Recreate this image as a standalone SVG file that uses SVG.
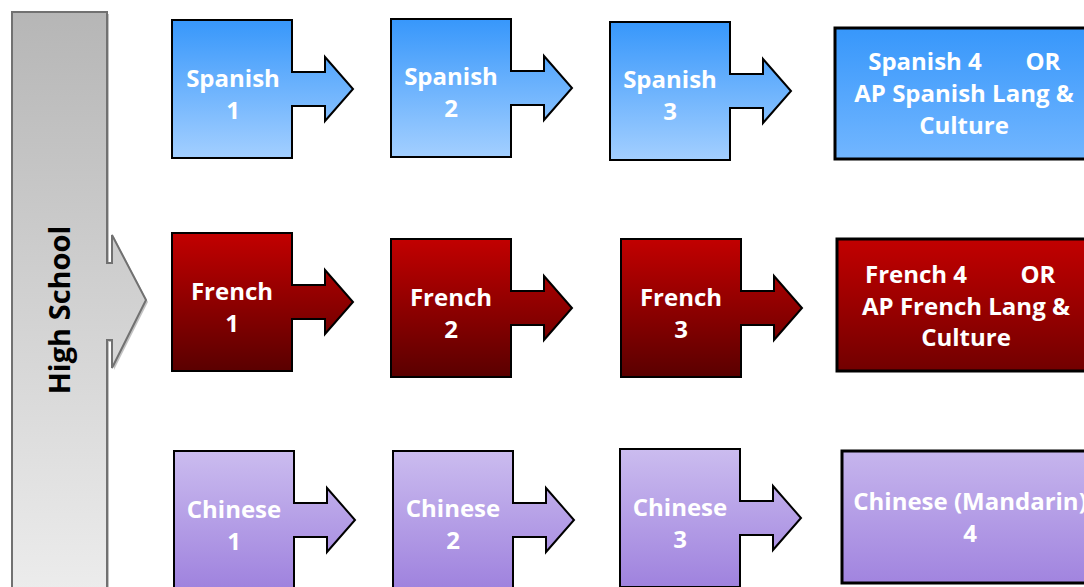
<svg xmlns="http://www.w3.org/2000/svg" width="1084" height="587" viewBox="0 0 1084 587">
<defs>
<linearGradient id="gHS" x1="0" y1="0" x2="0" y2="1"><stop offset="0" stop-color="#b6b6b6"/><stop offset="1" stop-color="#ececec"/></linearGradient>
<linearGradient id="gSp" x1="0" y1="0" x2="0" y2="1"><stop offset="0" stop-color="#3797fb"/><stop offset="1" stop-color="#a3cfff"/></linearGradient>
<linearGradient id="gSp4" x1="0" y1="0" x2="0" y2="1"><stop offset="0" stop-color="#3797fb"/><stop offset="1" stop-color="#72b6ff"/></linearGradient>
<linearGradient id="gFr" x1="0" y1="0" x2="0" y2="1"><stop offset="0" stop-color="#c20000"/><stop offset="1" stop-color="#5a0000"/></linearGradient>
<linearGradient id="gFr4" x1="0" y1="0" x2="0" y2="1"><stop offset="0" stop-color="#c20000"/><stop offset="1" stop-color="#720000"/></linearGradient>
<linearGradient id="gCh" x1="0" y1="0" x2="0" y2="1"><stop offset="0" stop-color="#cbbcef"/><stop offset="1" stop-color="#9f82de"/></linearGradient>
<linearGradient id="gCh4" x1="0" y1="0" x2="0" y2="1"><stop offset="0" stop-color="#c6b5ed"/><stop offset="1" stop-color="#a184df"/></linearGradient>
<path id="arr" d="M0,0 H120 V52 H153 V37 L181,69 L153,101 V86 H120 V138 H0 Z"/>
</defs>
<style>
.sp{fill:url(#gSp);stroke:#000;stroke-width:2;stroke-linejoin:miter}
.fr{fill:url(#gFr);stroke:#000;stroke-width:2}
.ch{fill:url(#gCh);stroke:#000;stroke-width:2}
.box{stroke:#000;stroke-width:3}
.t{font-family:"Open Sans","DejaVu Sans",sans-serif;font-weight:bold;font-size:24px;fill:#fff;text-anchor:middle}
.hs{font-family:"Open Sans","DejaVu Sans",sans-serif;font-weight:bold;font-size:29px;fill:#000;text-anchor:middle}
</style>

<g id="high-school">
<path d="M14,14 H109 V265 H114 V237 L148,302 L114,370 V342 H109 V592 H14 Z" fill="#9a9a9a" opacity="0.6"/>
<path d="M12,12 H107 V263 H112 V235 L146,300 L112,368 V340 H107 V590 H12 Z" fill="url(#gHS)" stroke="#717171" stroke-width="2"/>
<text class="hs" transform="translate(70,310) rotate(-90)">High School</text>
</g>

<g id="connectors"></g>

<g id="spanish-1"><use href="#arr" class="sp" transform="translate(172,20)"/><text class="t" x="233" y="87">Spanish<tspan x="233" dy="32">1</tspan></text></g>
<g id="spanish-2"><use href="#arr" class="sp" transform="translate(391,19)"/><text class="t" x="451" y="85">Spanish<tspan x="451" dy="32">2</tspan></text></g>
<g id="spanish-3"><use href="#arr" class="sp" transform="translate(610,22)"/><text class="t" x="670" y="88">Spanish<tspan x="670" dy="32">3</tspan></text></g>
<g id="spanish-4"><rect class="box" x="835" y="28" width="260" height="131" fill="url(#gSp4)"/>
<text class="t"><tspan x="925" y="70">Spanish 4</tspan><tspan x="1043" y="70">OR</tspan><tspan x="964" y="102">AP Spanish Lang &amp;</tspan><tspan x="964" y="134">Culture</tspan></text></g>

<g id="french-1"><use href="#arr" class="fr" transform="translate(172,233)"/><text class="t" x="232" y="300">French<tspan x="232" dy="32">1</tspan></text></g>
<g id="french-2"><use href="#arr" class="fr" transform="translate(391,239)"/><text class="t" x="451" y="306">French<tspan x="451" dy="32">2</tspan></text></g>
<g id="french-3"><use href="#arr" class="fr" transform="translate(621,239)"/><text class="t" x="681" y="306">French<tspan x="681" dy="32">3</tspan></text></g>
<g id="french-4"><rect class="box" x="837" y="239" width="260" height="132" fill="url(#gFr4)"/>
<text class="t"><tspan x="916" y="283">French 4</tspan><tspan x="1038" y="283">OR</tspan><tspan x="966" y="315">AP French Lang &amp;</tspan><tspan x="966" y="346">Culture</tspan></text></g>

<g id="chinese-1"><use href="#arr" class="ch" transform="translate(174,451)"/><text class="t" x="234" y="518">Chinese<tspan x="234" dy="32">1</tspan></text></g>
<g id="chinese-2"><use href="#arr" class="ch" transform="translate(393,451)"/><text class="t" x="453" y="517">Chinese<tspan x="453" dy="32">2</tspan></text></g>
<g id="chinese-3"><use href="#arr" class="ch" transform="translate(620,449)"/><text class="t" x="680" y="516">Chinese<tspan x="680" dy="32">3</tspan></text></g>
<g id="chinese-4"><rect class="box" x="842" y="451" width="260" height="132" fill="url(#gCh4)"/>
<text class="t"><tspan x="970" y="510">Chinese (Mandarin)</tspan><tspan x="970" y="542">4</tspan></text></g>
</svg>
